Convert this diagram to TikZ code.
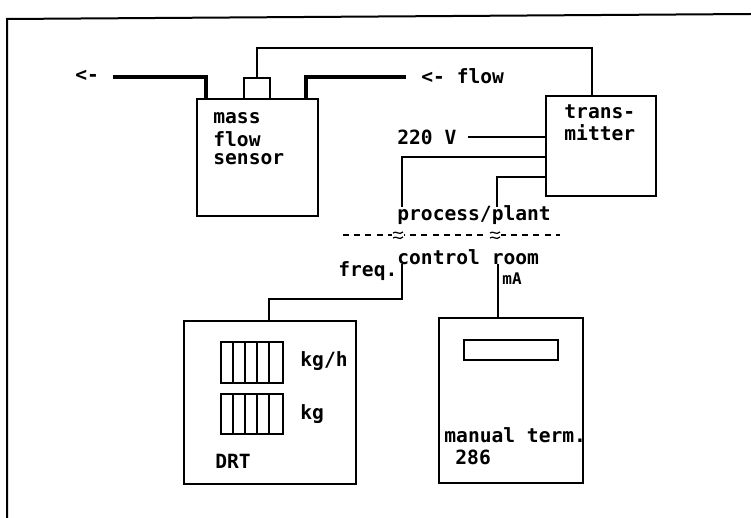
\documentclass[tikz,border=0pt]{standalone}
\usepackage{fontspec}
\setmainfont{DejaVu Sans Mono}
\begin{document}
\begin{tikzpicture}[x=0.5pt,y=-0.5pt,
  box/.style={draw, line width=1pt, inner sep=0pt, anchor=north west},
  cable/.style={line width=0.8pt},
  pipe/.style={line width=2pt},
  lbl/.style={font=\fontsize{9.8}{10.5}\selectfont\bfseries, inner sep=0pt, anchor=west, align=left},
  small/.style={font=\fontsize{8}{9}\selectfont\bfseries, inner sep=0pt, anchor=west}]
\useasboundingbox (0,0) rectangle (751,518);
% frame
\draw[line width=1pt] (7,518) -- (7,19) -- (751,14);
% boxes
\node[box, minimum width=60.5pt, minimum height=58.5pt] (sensor) at (196,98) {};
\node[box, minimum width=13pt, minimum height=10.5pt] (sq) at (243,77) {};
\node[box, minimum width=55pt, minimum height=50pt] (tr) at (545,95) {};
\node[box, minimum width=86pt, minimum height=81.5pt] (drt) at (183,320) {};
\node[box, minimum width=72pt, minimum height=82.5pt] (man) at (438,317) {};
\node[box, minimum width=47pt, minimum height=10pt] (scr) at (463,339) {};
\node[box, minimum width=31pt, minimum height=20.5pt] (d1) at (220,341) {};
\node[box, minimum width=31pt, minimum height=20pt] (d2) at (220,393) {};
\foreach \d in {d1,d2}{
  \foreach \xx in {233,245,257,269}{
    \draw[line width=0.8pt] (\xx,0 |- \d.north) -- (\xx,0 |- \d.south);
  }
}
% texts
\node[lbl] (tm1) at (213,118) {mass};
\node[lbl] (tm2) at (213,139) {flow};
\node[lbl] (tm3) at (213,159) {sensor};
\node[lbl] (tt1) at (564,112) {trans-};
\node[lbl] (tt2) at (564,133) {mitter};
\node[lbl] (lin) at (75,76) {<-};
\node[lbl] (lfl) at (421,76) {<- flow};
\node[lbl] (v220) at (397,137) {220 V};
\node[lbl] (pp) at (397,215) {process/plant};
\node[lbl] (cr) at (397,257) {control room};
\node[lbl] (fq) at (338,271) {freq.};
\node[small] (ma) at (502,279) {mA};
\node[lbl] (kgh) at (300,361) {kg/h};
\node[lbl] (kg) at (300,414) {kg};
\node[lbl] (drtl) at (215,461) {DRT};
\node[lbl] (mt1) at (444,435) {manual term.};
\node[lbl] (mt2) at (455,457) {286};
% pipes
\coordinate (pinL) at (113,77);
\coordinate (pinR) at (406,77);
\draw[pipe] (pinL) -| (sensor.north west -| 206,0);
\draw[pipe] (pinR) -| (sensor.north east -| 306,0);
% cables
\coordinate (tc) at (592,48);
\draw[cable] (sq.north) |- (tc) -- (tc |- tr.north);
\coordinate (v0) at (468,137);
\draw[cable] (v0) -- (v0 -| tr.west);
\coordinate (fa) at (402,157);
\coordinate (fe) at (402,207);
\draw[cable] (fa -| tr.west) -- (fa) -- (fe);
\coordinate (ma0) at (497,177);
\coordinate (me) at (497,207);
\draw[cable] (ma0 -| tr.west) -- (ma0) -- (me);
\coordinate (fb) at (402,264);
\coordinate (fc) at (269,299);
\draw[cable] (fb) |- (fc) -- (fc |- drt.north);
\coordinate (mb) at (498,264);
\draw[cable] (mb) -- (mb |- man.north);
% process / control room boundary
\coordinate (dl) at (343,235);
\coordinate (dr) at (560,235);
\draw[line width=0.9pt, dash pattern=on 3pt off 2.6pt] (dl) -- (dr);
\foreach \xx in {398,495}{
  \fill[white] (\xx-6,230) rectangle (\xx+6,240);
  \draw[line width=0.6pt] (\xx-5,233) .. controls (\xx-2,230) and (\xx+1,236) .. (\xx+5,232);
  \draw[line width=0.6pt] (\xx-5,238) .. controls (\xx-2,235) and (\xx+1,241) .. (\xx+5,237);
}
\end{tikzpicture}
\end{document}
